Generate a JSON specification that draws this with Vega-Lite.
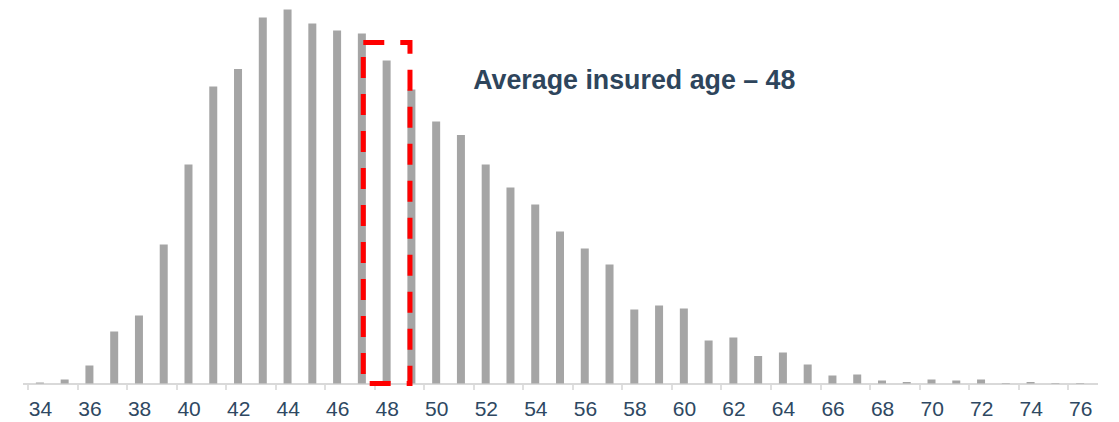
{
  "$schema": "https://vega.github.io/schema/vega-lite/v6.json",
  "width": 1075,
  "height": 383.5,
  "autosize": {"type": "none"},
  "padding": {"left": 22.5, "top": 0, "right": 21.5, "bottom": 38.5},
  "background": "white",
  "config": {"view": {"stroke": null}},
  "datasets": {
    "ages": [
      {"age": 34, "count": 1},
      {"age": 35, "count": 4},
      {"age": 36, "count": 18},
      {"age": 37, "count": 52},
      {"age": 38, "count": 68},
      {"age": 39, "count": 139},
      {"age": 40, "count": 219},
      {"age": 41, "count": 297},
      {"age": 42, "count": 314.5},
      {"age": 43, "count": 366},
      {"age": 44, "count": 374},
      {"age": 45, "count": 360},
      {"age": 46, "count": 353},
      {"age": 47, "count": 350},
      {"age": 48, "count": 323},
      {"age": 49, "count": 294},
      {"age": 50, "count": 262},
      {"age": 51, "count": 248.5},
      {"age": 52, "count": 219},
      {"age": 53, "count": 196},
      {"age": 54, "count": 179},
      {"age": 55, "count": 152},
      {"age": 56, "count": 135},
      {"age": 57, "count": 119},
      {"age": 58, "count": 74},
      {"age": 59, "count": 78},
      {"age": 60, "count": 75},
      {"age": 61, "count": 43},
      {"age": 62, "count": 46},
      {"age": 63, "count": 27.5},
      {"age": 64, "count": 31},
      {"age": 65, "count": 19},
      {"age": 66, "count": 8},
      {"age": 67, "count": 9},
      {"age": 68, "count": 3},
      {"age": 69, "count": 1.5},
      {"age": 70, "count": 4},
      {"age": 71, "count": 3},
      {"age": 72, "count": 4},
      {"age": 73, "count": 0.5},
      {"age": 74, "count": 1.5},
      {"age": 75, "count": 0.5},
      {"age": 76, "count": 0.5}
    ],
    "highlight": [{"age": 48, "top": 341}],
    "note": [{"age": 58, "count": 302.5, "label": "Average insured age – 48"}]
  },
  "layer": [
    {
      "data": {"name": "ages"},
      "mark": {"type": "bar", "size": 8, "color": "#A5A5A5"},
      "encoding": {
        "x": {
          "field": "age",
          "type": "quantitative",
          "scale": {"domain": [33.5, 76.5], "nice": false, "zero": false},
          "axis": {
            "title": null,
            "values": [33.5, 35.5, 37.5, 39.5, 41.5, 43.5, 45.5, 47.5, 49.5, 51.5, 53.5, 55.5, 57.5, 59.5, 61.5, 63.5, 65.5, 67.5, 69.5, 71.5, 73.5, 75.5],
            "labelExpr": "format(datum.value + 0.5, 'd')",
            "labelOffset": 12.5,
            "labelFlush": false,
            "labelOverlap": false,
            "labelFont": "Liberation Sans",
            "labelFontSize": 21,
            "labelColor": "#2E4862",
            "labelPadding": 9,
            "tickSize": 6,
            "tickColor": "#D4D4D4",
            "tickWidth": 1.5,
            "domainColor": "#D9D9D9",
            "domainWidth": 2,
            "grid": false
          }
        },
        "y": {
          "field": "count",
          "type": "quantitative",
          "scale": {"domain": [0, 383.5], "nice": false},
          "axis": null
        }
      }
    },
    {
      "data": {"name": "highlight"},
      "mark": {"type": "bar", "width": 46.7, "filled": false, "stroke": "#FF0000", "strokeWidth": 5, "strokeDash": [21, 16]},
      "encoding": {
        "x": {"field": "age", "type": "quantitative"},
        "y": {"field": "top", "type": "quantitative"}
      }
    },
    {
      "data": {"name": "note"},
      "mark": {"type": "text", "font": "Liberation Sans", "fontWeight": "bold", "fontSize": 26.8, "color": "#2E455C", "align": "center", "baseline": "middle"},
      "encoding": {
        "x": {"field": "age", "type": "quantitative"},
        "y": {"field": "count", "type": "quantitative"},
        "text": {"field": "label"}
      }
    }
  ]
}
